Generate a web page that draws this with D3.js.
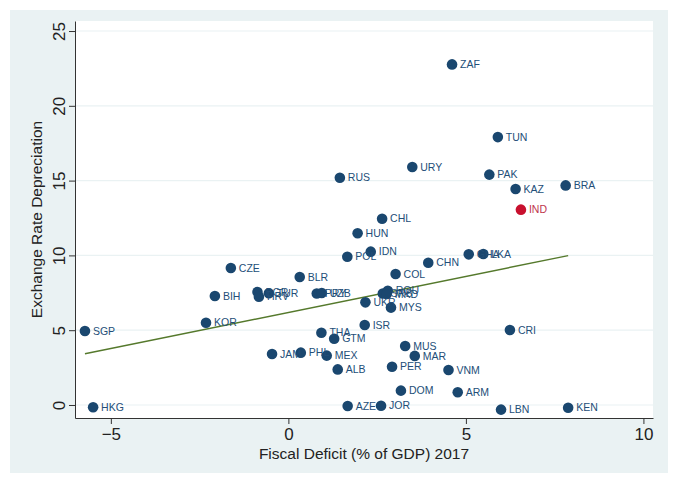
<!DOCTYPE html>
<html>
<head>
<meta charset="utf-8">
<script src="https://cdn.jsdelivr.net/npm/d3@7"></script>
<style>
  body { margin: 0; background: #fff; }
  text { font-family: "Liberation Sans", Arial, sans-serif; }
</style>
</head>
<body>
<script>
// pays, déficit budgétaire 2017 (% du PIB), dépréciation du change
const codes = ["ZAF","TUN","URY","RUS","PAK","KAZ","BRA","IND","CHL","HUN",
  "IDN","POL","CHN","GHA","LKA","COL","CZE","BLR","BIH","BGR","HRV","TUR",
  "PRY","UZB","SRB","ROU","MKD","UKR","MYS","KOR","ISR","THA","GTM","SGP",
  "CRI","JAM","PHL","MEX","ALB","MUS","MAR","PER","VNM","DOM","ARM","AZE",
  "JOR","HKG","LBN","KEN"];
const deficit = [4.61,5.90,3.49,1.45,5.66,6.40,7.81,6.55,2.64,1.95,
  2.32,1.66,3.94,5.08,5.49,3.02,-1.62,0.32,-2.07,-0.87,-0.83,-0.55,
  0.80,0.94,2.66,2.80,2.77,2.17,2.89,-2.32,2.15,0.93,1.29,-5.73,
  6.24,-0.46,0.35,1.08,1.39,3.29,3.56,2.92,4.51,3.17,4.77,1.67,
  2.61,-5.50,5.99,7.88];
const depreciation = [22.77,17.91,15.91,15.19,15.40,14.44,14.68,13.06,12.45,11.48,
  10.25,9.91,9.51,10.07,10.09,8.76,9.16,8.56,7.29,7.55,7.24,7.47,
  7.45,7.49,7.45,7.64,7.42,6.86,6.51,5.50,5.35,4.83,4.43,4.95,
  5.01,3.41,3.50,3.30,2.38,3.94,3.28,2.56,2.34,0.96,0.85,-0.07,
  -0.05,-0.15,-0.31,-0.18];
const highlight = ["IND"];
const xTicks = [-5, 0, 5, 10];
const yTicks = [0, 5, 10, 15, 20, 25];

const W = 677, H = 482;
const navy = "#1a476f", red = "#c8102e", green = "#55792c", panel = "#eaf2f3";

const svg = d3.select("body").append("svg")
  .attr("width", W).attr("height", H);

// fond du graphique
svg.append("rect").attr("x", 10).attr("y", 10).attr("width", 658).attr("height", 463)
  .attr("fill", panel);

const plot = {left: 75, right: 653, top: 21, bottom: 418};
svg.append("rect").attr("x", plot.left).attr("y", plot.top)
  .attr("width", plot.right - plot.left).attr("height", plot.bottom - plot.top)
  .attr("fill", "#fff");

const x = d3.scaleLinear().domain([-6.01, 10.27]).range([plot.left, plot.right]);
const y = d3.scaleLinear().domain([-0.87, 25.67]).range([plot.bottom, plot.top]);

// grille horizontale
svg.append("g").selectAll("line").data(yTicks).join("line")
  .attr("x1", plot.left).attr("x2", plot.right)
  .attr("y1", d => y(d)).attr("y2", d => y(d))
  .attr("stroke", panel).attr("stroke-width", 1.2);

// axes
const gx = svg.append("g").attr("transform", `translate(0,${plot.bottom})`)
  .call(d3.axisBottom(x).tickValues(xTicks).tickSize(6).tickSizeOuter(0).tickPadding(4));
const gy = svg.append("g").attr("transform", `translate(${plot.left},0)`)
  .call(d3.axisLeft(y).tickValues(yTicks).tickSize(6).tickSizeOuter(0));
[gx, gy].forEach(g => {
  g.select(".domain").attr("stroke", "#333");
  g.selectAll(".tick line").attr("stroke", "#333");
  g.selectAll("text").attr("font-size", 17).attr("fill", "#222")
    .attr("font-family", "Liberation Sans, Arial, sans-serif");
});
// étiquettes de l'axe y verticales
gy.selectAll(".tick text")
  .attr("x", null).attr("dy", null)
  .attr("text-anchor", "middle")
  .attr("transform", "translate(-16,0) rotate(-90)")
  .attr("dy", "0.35em");

svg.append("text").attr("x", 364).attr("y", 459).attr("text-anchor", "middle")
  .attr("font-size", 15.5).attr("fill", "#222").text("Fiscal Deficit (% of GDP) 2017");
svg.append("text").attr("transform", `translate(42,${(plot.top + plot.bottom) / 2}) rotate(-90)`)
  .attr("text-anchor", "middle").attr("font-size", 15.5).attr("fill", "#222")
  .text("Exchange Rate Depreciation");

// droite de régression
const pts = codes.map((c, i) => ({c, x: deficit[i], y: depreciation[i]}));
const mx = d3.mean(pts, d => d.x), my = d3.mean(pts, d => d.y);
const slope = d3.sum(pts, d => (d.x - mx) * (d.y - my)) / d3.sum(pts, d => (d.x - mx) ** 2);
const icpt = my - slope * mx;
const [x0, x1] = d3.extent(pts, d => d.x);
svg.append("line")
  .attr("x1", x(x0)).attr("y1", y(icpt + slope * x0))
  .attr("x2", x(x1)).attr("y2", y(icpt + slope * x1))
  .attr("stroke", green).attr("stroke-width", 1.4);

// points et étiquettes
const g = svg.append("g");
g.selectAll("circle").data(pts).join("circle")
  .attr("cx", d => x(d.x)).attr("cy", d => y(d.y)).attr("r", 5.3)
  .attr("fill", d => highlight.includes(d.c) ? red : navy);
g.selectAll("text").data(pts).join("text")
  .attr("x", d => x(d.x) + 8).attr("y", d => y(d.y)).attr("dy", "0.35em")
  .attr("font-size", 10.5)
  .attr("fill", d => highlight.includes(d.c) ? "#c0354d" : "#234e78")
  .text(d => d.c);
</script>
</body>
</html>
